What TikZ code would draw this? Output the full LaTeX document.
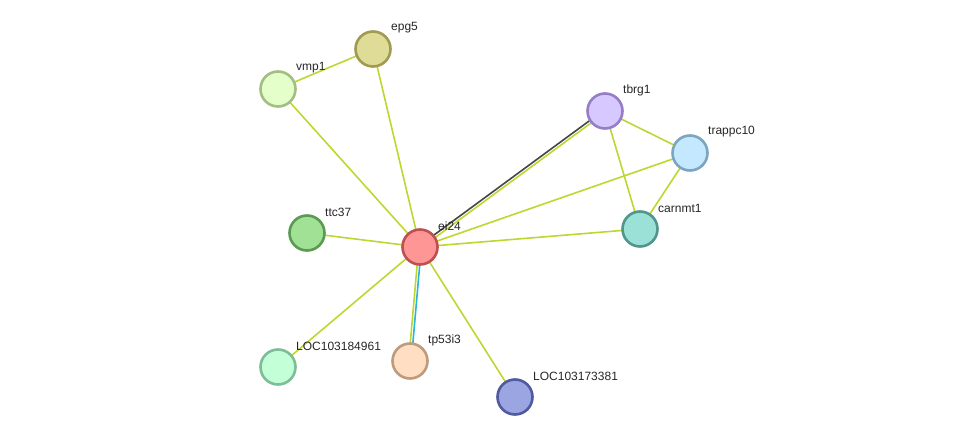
\documentclass[tikz,border=0pt]{standalone}
\usepackage{fontspec}
\setmainfont{Liberation Sans}
\usetikzlibrary{backgrounds}
\definecolor{edgeg}{RGB}{192,214,48}
\definecolor{edged}{RGB}{70,70,70}
\definecolor{edgeb}{RGB}{40,180,225}
\tikzset{
  prot/.style={circle, minimum size=35pt, inner sep=0pt, line width=2.6pt},
  lbl/.style={anchor=west, inner sep=0pt, font=\fontsize{12pt}{14pt}\selectfont, text=black!85},
  link/.style={draw=edgeg, line width=1.6pt},
}
\begin{document}
\begin{tikzpicture}[x=1pt,y=-1pt]
\useasboundingbox (0,0) rectangle (975,443);
\node[prot, fill={rgb,255:red,255;green,150;blue,150}, draw={rgb,255:red,190;green,80;blue,80}] (ei24) at (420,247) {};
\node[prot, fill={rgb,255:red,222;green,220;blue,150}, draw={rgb,255:red,160;green,155;blue,80}] (epg5) at (373,49) {};
\node[prot, fill={rgb,255:red,228;green,255;blue,202}, draw={rgb,255:red,162;green,190;blue,130}] (vmp1) at (278,89) {};
\node[prot, fill={rgb,255:red,215;green,200;blue,255}, draw={rgb,255:red,150;green,125;blue,200}] (tbrg1) at (605,111) {};
\node[prot, fill={rgb,255:red,195;green,232;blue,255}, draw={rgb,255:red,125;green,165;blue,190}] (trappc10) at (690,153) {};
\node[prot, fill={rgb,255:red,155;green,225;blue,215}, draw={rgb,255:red,80;green,150;blue,140}] (carnmt1) at (640,229) {};
\node[prot, fill={rgb,255:red,160;green,225;blue,150}, draw={rgb,255:red,90;green,155;blue,80}] (ttc37) at (307,233) {};
\node[prot, fill={rgb,255:red,195;green,255;blue,215}, draw={rgb,255:red,125;green,190;blue,150}] (loca) at (278,367) {};
\node[prot, fill={rgb,255:red,255;green,222;blue,195}, draw={rgb,255:red,190;green,155;blue,125}] (tp53i3) at (410,361) {};
\node[prot, fill={rgb,255:red,155;green,165;blue,225}, draw={rgb,255:red,80;green,90;blue,160}] (locb) at (515,397) {};

\node[lbl] (l-ei24) at (438,226) {ei24};
\node[lbl] (l-epg5) at (391,28) {epg5};
\node[lbl] (l-vmp1) at (296,68) {vmp1};
\node[lbl] (l-tbrg1) at (623,90) {tbrg1};
\node[lbl] (l-trappc10) at (708,132) {trappc10};
\node[lbl] (l-carnmt1) at (658,208) {carnmt1};
\node[lbl] (l-ttc37) at (325,212) {ttc37};
\node[lbl] (l-loca) at (296,346) {LOC103184961};
\node[lbl] (l-tp53i3) at (428,340) {tp53i3};
\node[lbl] (l-locb) at (533,376) {LOC103173381};

\begin{scope}[on background layer]
\draw[link] (vmp1.center) -- (epg5.center);
\draw[link] (vmp1.center) -- (ei24.center);
\draw[link] (epg5.center) -- (ei24.center);
\draw[link] (ttc37.center) -- (ei24.center);
\draw[link] (ei24.center) -- (trappc10.center);
\draw[link] (ei24.center) -- (carnmt1.center);
\draw[link] (tbrg1.center) -- (trappc10.center);
\draw[link] (tbrg1.center) -- (carnmt1.center);
\draw[link] (trappc10.center) -- (carnmt1.center);
\draw[link] (ei24.center) -- (loca.center);
\draw[link] (ei24.center) -- (locb.center);
\draw[link, draw=edged, transform canvas={shift={(-0.8pt,1.1pt)}}] (ei24.center) -- (tbrg1.center);
\draw[link, transform canvas={shift={(0.8pt,-1.1pt)}}] (ei24.center) -- (tbrg1.center);
\draw[link, draw=edgeb, transform canvas={shift={(1.3pt,0pt)}}] (ei24.center) -- (tp53i3.center);
\draw[link, transform canvas={shift={(-1.3pt,0pt)}}] (ei24.center) -- (tp53i3.center);
\end{scope}
\end{tikzpicture}
\end{document}
